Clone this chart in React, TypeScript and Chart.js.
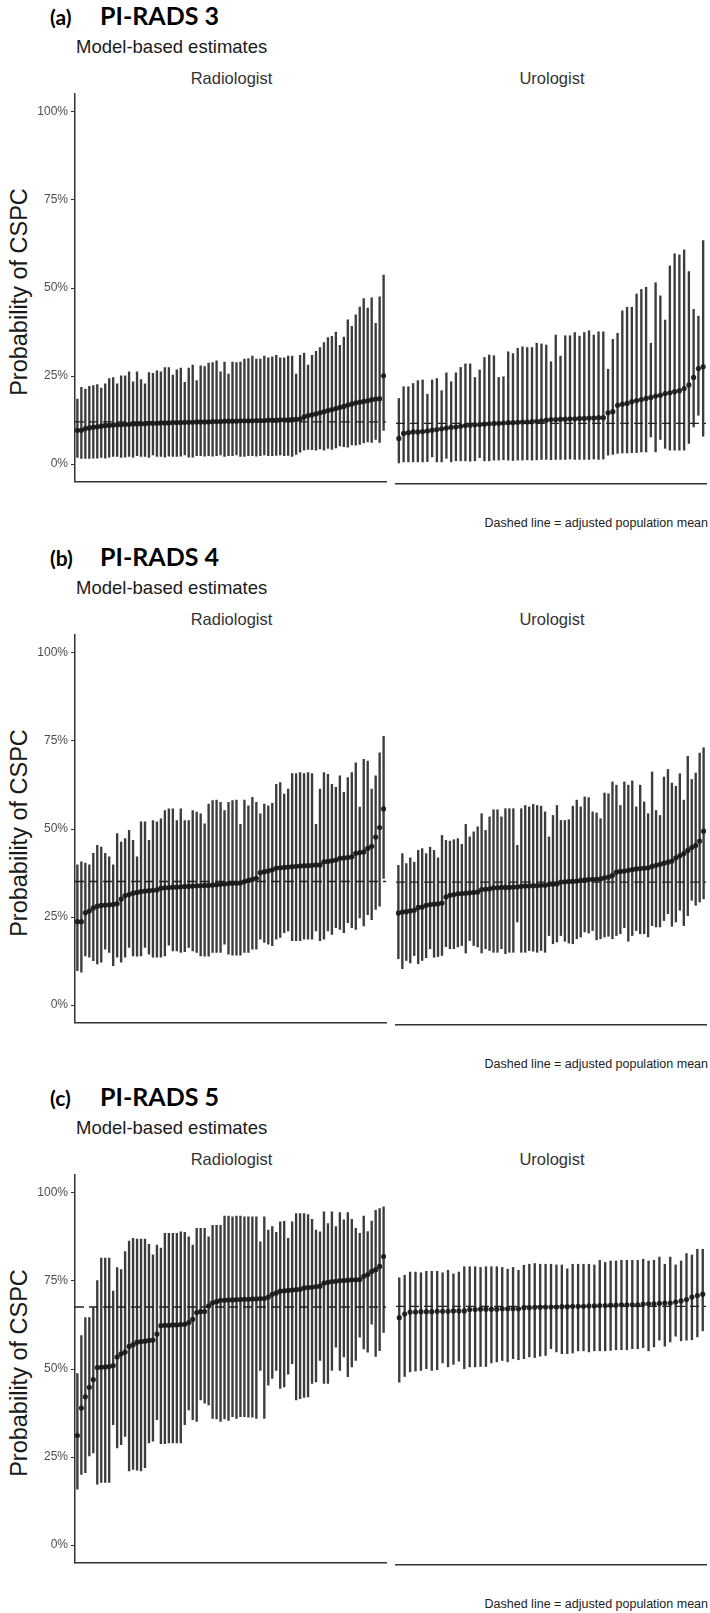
import React, { useEffect, useRef } from "react";
import { Chart, registerables } from "chart.js";
Chart.register(...registerables);

// ---------- Text / labels ----------
const panelTags = ["(a)", "(b)", "(c)"];
const panelTitles = ["PI-RADS 3", "PI-RADS 4", "PI-RADS 5"];
const subtitle = "Model-based estimates";
const facetNames = ["Radiologist", "Urologist"];
const yTitle = "Probability of CSPC";
const caption = "Dashed line = adjusted population mean";
const yTicks = [0, 25, 50, 75, 100];

// ---------- Adjusted population means (%) ----------
const means = [12.0, 35.1, 67.6];

// ---------- (a) PI-RADS 3 : Radiologist ----------
const aRadEst = [9.6, 9.6, 10.1, 10.3, 10.5, 10.6, 10.8, 11.0, 11.0, 11.1, 11.2, 11.2, 11.3, 11.3, 11.4, 11.4, 11.5, 11.5, 11.6, 11.6, 11.6, 11.7, 11.7, 11.7, 11.8, 11.8, 11.8, 11.9, 11.9, 11.9, 12.0, 12.0, 12.0, 12.0, 12.1, 12.1, 12.1, 12.2, 12.2, 12.2, 12.2, 12.3, 12.3, 12.3, 12.3, 12.4, 12.4, 12.4, 12.5, 12.5, 12.5, 12.6, 12.6, 12.6, 12.7, 12.7, 12.8, 13.4, 13.8, 14.0, 14.3, 14.6, 14.9, 15.2, 15.5, 15.8, 16.1, 16.4, 16.8, 17.1, 17.4, 17.6, 17.8, 18.0, 18.3, 18.5, 18.6, 25.1];
const aRadLow = [1.9, 1.6, 1.6, 1.6, 1.7, 1.7, 1.9, 1.7, 2.0, 2.2, 2.2, 1.9, 2.0, 2.2, 1.9, 2.4, 2.2, 2.2, 1.9, 2.6, 2.2, 2.2, 2.0, 2.3, 2.2, 2.2, 2.3, 2.6, 2.0, 2.0, 2.4, 2.4, 2.3, 2.4, 2.3, 2.4, 2.6, 2.2, 2.4, 2.4, 2.6, 2.2, 2.2, 2.4, 2.4, 2.3, 2.4, 2.6, 2.4, 2.4, 2.5, 2.6, 2.4, 2.5, 2.2, 2.8, 3.4, 4.0, 4.2, 4.1, 4.0, 4.3, 4.0, 4.5, 4.2, 4.6, 5.2, 5.0, 4.8, 5.5, 5.4, 5.6, 6.0, 6.3, 6.2, 7.0, 6.2, 9.6];
const aRadHigh = [18.5, 21.8, 21.3, 22.1, 22.3, 22.6, 21.6, 22.8, 24.3, 24.6, 22.8, 25.1, 25.1, 26.2, 23.4, 26.2, 24.0, 22.8, 26.0, 25.8, 26.5, 26.2, 27.4, 27.4, 25.3, 26.8, 27.3, 23.2, 27.3, 28.1, 23.7, 27.9, 27.7, 28.7, 28.8, 29.3, 26.2, 29.0, 25.6, 29.0, 28.8, 29.0, 29.8, 30.0, 30.7, 29.8, 29.8, 30.7, 30.2, 30.5, 30.9, 30.2, 30.2, 30.7, 30.7, 25.6, 30.9, 31.5, 28.1, 30.9, 32.0, 33.1, 34.5, 35.9, 36.3, 37.5, 33.7, 36.1, 41.0, 39.1, 42.4, 44.6, 47.0, 44.3, 47.2, 40.0, 47.5, 53.7];

// ---------- (a) PI-RADS 3 : Urologist ----------
const aUroEst = [7.8, 9.2, 9.4, 9.6, 9.6, 9.7, 9.9, 10.1, 10.3, 10.5, 10.7, 10.9, 11.0, 11.2, 11.4, 11.5, 11.6, 11.7, 11.8, 11.9, 12.0, 12.0, 12.1, 12.2, 12.2, 12.3, 12.4, 12.4, 12.5, 12.6, 12.7, 12.9, 13.1, 13.1, 13.2, 13.2, 13.3, 13.3, 13.4, 13.4, 13.5, 13.5, 13.6, 13.6, 15.0, 15.3, 17.1, 17.4, 17.6, 18.1, 18.4, 18.7, 19.0, 19.3, 19.7, 19.9, 20.4, 20.6, 20.9, 21.2, 21.8, 22.8, 24.9, 27.4, 27.9];
const aUroLow = [0.9, 1.2, 1.2, 1.2, 1.2, 1.2, 1.3, 2.6, 1.2, 1.2, 2.2, 1.2, 1.5, 1.5, 1.5, 1.4, 1.5, 2.4, 1.5, 1.5, 1.7, 1.7, 1.8, 1.7, 1.6, 1.7, 1.7, 1.8, 1.7, 1.8, 1.9, 1.9, 1.8, 1.9, 1.9, 1.9, 2.0, 1.9, 1.9, 1.9, 1.9, 2.0, 1.9, 2.0, 3.1, 3.3, 3.6, 3.7, 3.7, 3.8, 3.8, 4.0, 4.0, 8.2, 4.0, 7.5, 5.0, 4.5, 4.5, 4.5, 4.5, 6.4, 11.0, 14.3, 8.4];
const aUroHigh = [19.0, 22.3, 22.3, 23.2, 24.0, 24.2, 20.2, 24.2, 24.6, 21.2, 26.2, 23.7, 26.2, 27.7, 28.7, 28.7, 24.9, 27.0, 30.5, 31.2, 31.0, 24.9, 25.1, 32.1, 31.6, 33.1, 33.5, 33.3, 33.3, 34.5, 34.3, 34.0, 29.3, 36.8, 30.9, 36.6, 36.6, 37.5, 36.5, 37.5, 38.0, 36.8, 37.7, 37.7, 27.2, 35.6, 37.3, 43.6, 44.6, 44.6, 48.3, 49.6, 50.2, 34.5, 51.5, 47.8, 41.0, 56.2, 59.6, 59.3, 60.7, 54.6, 44.0, 42.1, 63.3];

// ---------- (b) PI-RADS 4 : Radiologist ----------
const bRadEst = [23.7, 23.7, 26.2, 26.7, 27.6, 28.1, 28.3, 28.4, 28.5, 28.6, 28.8, 30.1, 31.1, 31.4, 31.8, 32.0, 32.2, 32.4, 32.5, 32.6, 32.7, 33.2, 33.3, 33.4, 33.5, 33.5, 33.6, 33.7, 33.7, 33.8, 33.9, 33.9, 34.0, 34.0, 34.1, 34.2, 34.3, 34.4, 34.5, 34.6, 34.6, 34.7, 35.1, 35.4, 35.7, 36.0, 37.6, 37.9, 38.1, 38.4, 38.9, 39.0, 39.1, 39.2, 39.3, 39.4, 39.5, 39.6, 39.6, 39.7, 39.8, 39.8, 40.7, 40.8, 41.0, 41.2, 41.7, 41.8, 41.9, 42.1, 43.1, 43.3, 43.5, 44.5, 45.1, 47.7, 50.4, 55.7];
const bRadLow = [9.8, 9.4, 14.0, 13.6, 12.6, 11.7, 12.2, 15.9, 15.0, 11.2, 13.6, 12.2, 13.6, 16.4, 14.0, 13.9, 14.0, 16.4, 14.5, 13.6, 13.6, 13.6, 14.0, 17.0, 15.4, 15.4, 15.0, 15.2, 16.4, 15.4, 15.0, 14.0, 13.9, 13.9, 15.0, 15.0, 15.0, 17.3, 14.5, 14.2, 14.2, 14.2, 15.0, 15.0, 15.9, 15.9, 18.7, 17.8, 17.3, 16.9, 18.7, 19.2, 20.6, 21.1, 18.3, 18.3, 18.3, 18.7, 18.7, 18.7, 21.1, 18.3, 18.7, 21.1, 20.1, 22.0, 21.5, 20.6, 23.4, 22.0, 21.5, 24.8, 22.5, 25.7, 24.3, 27.2, 28.1, 36.0];
const bRadHigh = [39.8, 40.7, 40.3, 39.8, 43.1, 45.4, 44.9, 43.1, 42.1, 39.8, 48.7, 46.3, 47.3, 49.6, 46.8, 42.1, 52.0, 52.0, 46.8, 52.4, 52.0, 52.9, 55.2, 55.7, 55.7, 52.4, 55.7, 52.4, 52.4, 55.2, 54.8, 54.3, 51.5, 57.1, 58.1, 58.2, 57.6, 55.2, 57.6, 58.1, 58.2, 51.3, 58.2, 56.6, 59.0, 57.6, 54.3, 57.1, 56.6, 57.3, 62.7, 63.2, 59.9, 61.3, 65.7, 65.7, 66.0, 65.7, 66.0, 65.7, 51.3, 61.3, 66.0, 65.5, 62.7, 61.8, 65.1, 60.4, 64.6, 66.0, 68.8, 56.2, 69.8, 69.3, 61.3, 65.1, 71.6, 76.3];

// ---------- (b) PI-RADS 4 : Urologist ----------
const bUroEst = [26.4, 26.7, 26.8, 27.0, 27.2, 28.0, 28.1, 28.6, 28.8, 28.9, 29.0, 29.2, 30.9, 31.4, 31.6, 31.8, 31.9, 32.0, 32.1, 32.2, 32.3, 33.0, 33.1, 33.2, 33.5, 33.5, 33.6, 33.6, 33.6, 33.7, 33.7, 33.9, 34.0, 34.0, 34.1, 34.1, 34.2, 34.2, 34.5, 34.5, 34.6, 35.1, 35.2, 35.3, 35.3, 35.4, 35.6, 35.7, 35.8, 35.9, 35.9, 36.0, 36.3, 36.5, 37.0, 37.9, 38.1, 38.2, 38.4, 38.6, 38.8, 38.9, 39.0, 39.1, 39.5, 39.8, 40.1, 40.4, 40.7, 41.0, 41.9, 42.5, 43.1, 44.0, 44.8, 45.4, 46.6, 49.4];
const bUroLow = [13.6, 10.8, 13.1, 12.4, 14.5, 12.2, 13.1, 13.9, 16.4, 14.0, 14.2, 14.5, 17.0, 16.4, 16.4, 16.9, 17.3, 15.2, 18.7, 17.3, 16.9, 15.2, 16.4, 15.9, 15.4, 15.4, 16.4, 15.0, 15.4, 15.4, 23.9, 15.4, 15.4, 15.9, 15.7, 15.4, 15.9, 15.4, 20.1, 17.8, 18.3, 20.1, 18.5, 18.0, 17.8, 19.2, 19.7, 21.1, 20.8, 21.5, 18.9, 19.2, 19.7, 19.9, 19.2, 20.1, 20.6, 22.3, 18.5, 20.1, 21.5, 20.6, 20.6, 19.7, 22.9, 22.5, 22.5, 24.3, 26.2, 22.7, 23.9, 27.2, 22.9, 25.7, 30.0, 28.6, 29.5, 30.4];
const bUroHigh = [39.8, 43.1, 40.3, 41.9, 40.7, 44.0, 44.5, 43.1, 44.9, 44.0, 41.9, 48.2, 46.8, 46.6, 47.0, 47.3, 45.7, 51.3, 47.8, 49.2, 50.6, 54.3, 49.6, 53.4, 55.4, 55.4, 53.4, 55.7, 55.7, 55.7, 45.4, 55.7, 56.6, 56.2, 56.9, 56.6, 56.4, 54.8, 47.8, 53.8, 56.6, 52.4, 52.4, 52.6, 56.4, 58.1, 56.2, 59.0, 58.8, 54.8, 54.5, 52.9, 60.1, 59.9, 63.2, 62.3, 56.6, 63.2, 62.3, 63.5, 56.2, 62.3, 57.6, 54.3, 66.0, 55.2, 53.8, 64.6, 66.7, 62.9, 62.0, 65.5, 58.1, 70.4, 63.9, 65.7, 71.3, 72.8];

// ---------- (c) PI-RADS 5 : Radiologist ----------
const cRadEst = [31.1, 38.9, 42.1, 44.8, 47.0, 50.4, 50.5, 50.6, 50.7, 51.0, 53.4, 54.3, 54.8, 56.4, 56.9, 57.6, 57.8, 57.9, 58.1, 58.2, 59.9, 62.3, 62.4, 62.4, 62.5, 62.5, 62.6, 62.7, 63.2, 64.1, 66.0, 66.3, 66.3, 67.9, 68.8, 69.1, 69.5, 69.5, 69.6, 69.6, 69.7, 69.7, 69.8, 69.8, 69.9, 69.9, 70.0, 70.0, 70.4, 71.2, 71.6, 72.1, 72.2, 72.3, 72.4, 72.5, 72.6, 73.0, 73.1, 73.2, 73.4, 73.5, 74.4, 74.6, 74.8, 74.9, 75.1, 75.1, 75.2, 75.3, 75.3, 75.4, 76.3, 76.8, 77.7, 78.2, 79.1, 81.9];
const cRadLow = [15.9, 20.1, 20.6, 25.3, 26.2, 17.3, 17.8, 17.8, 17.8, 34.2, 27.6, 28.5, 30.9, 21.1, 21.5, 21.3, 21.1, 22.0, 29.0, 29.5, 35.6, 28.8, 28.8, 29.0, 29.0, 29.0, 29.0, 34.2, 38.4, 35.6, 35.1, 41.2, 40.3, 39.8, 36.0, 35.8, 35.1, 35.8, 35.4, 36.5, 36.0, 36.5, 36.5, 36.3, 36.3, 36.0, 49.6, 36.0, 45.4, 47.3, 49.6, 44.5, 44.9, 48.5, 51.5, 41.2, 41.6, 41.9, 42.1, 45.9, 46.3, 52.4, 45.9, 45.9, 49.6, 56.2, 49.6, 53.4, 47.8, 50.6, 52.4, 59.0, 55.7, 54.8, 62.7, 53.6, 55.2, 60.4];
const cRadHigh = [48.7, 59.5, 64.6, 64.6, 67.4, 75.1, 81.5, 81.5, 81.5, 72.1, 78.8, 78.2, 83.3, 86.3, 87.1, 86.9, 86.9, 86.9, 85.4, 82.4, 85.2, 84.3, 88.5, 88.5, 88.5, 88.5, 88.9, 88.8, 87.5, 85.2, 89.9, 89.9, 89.9, 87.5, 90.8, 90.8, 90.8, 93.4, 93.4, 93.2, 93.4, 93.4, 93.2, 93.2, 93.2, 93.2, 86.1, 93.2, 89.4, 90.4, 88.8, 91.8, 91.9, 87.1, 91.8, 94.1, 94.1, 94.1, 93.8, 92.5, 89.4, 88.9, 94.6, 91.3, 94.6, 90.4, 94.4, 92.3, 94.4, 92.5, 89.9, 88.5, 93.4, 89.0, 92.0, 95.0, 95.5, 96.0];

// ---------- (c) PI-RADS 5 : Urologist ----------
const cUroEst = [64.4, 65.4, 66.0, 66.0, 66.1, 66.1, 66.1, 66.2, 66.2, 66.2, 66.3, 66.3, 66.3, 66.7, 66.7, 66.8, 66.8, 66.8, 66.8, 66.9, 66.9, 66.9, 66.9, 67.2, 67.2, 67.3, 67.3, 67.4, 67.4, 67.4, 67.5, 67.5, 67.6, 67.6, 67.6, 67.7, 67.7, 67.8, 67.8, 67.9, 67.9, 68.0, 68.0, 68.0, 68.0, 68.2, 68.3, 68.3, 68.4, 68.5, 68.5, 68.8, 69.1, 69.5, 70.2, 70.6, 71.0];
const cUroLow = [46.3, 47.9, 49.2, 49.4, 49.6, 50.1, 49.6, 49.8, 51.7, 50.6, 51.3, 52.2, 50.1, 50.6, 50.6, 50.7, 50.7, 51.7, 52.0, 52.4, 52.0, 52.9, 52.6, 52.9, 53.4, 53.2, 53.6, 53.8, 55.7, 54.8, 54.3, 54.3, 54.5, 55.1, 55.1, 54.8, 55.1, 55.1, 55.1, 55.2, 55.4, 55.4, 55.4, 55.7, 55.7, 56.0, 55.1, 56.2, 58.1, 56.4, 57.6, 59.2, 57.9, 58.1, 58.2, 59.0, 60.7];
const cUroHigh = [75.6, 76.3, 77.2, 77.2, 77.0, 77.4, 77.4, 77.4, 77.0, 77.7, 76.7, 77.2, 78.7, 78.7, 78.7, 78.5, 78.7, 78.7, 78.7, 78.5, 78.0, 78.5, 77.7, 79.1, 79.4, 79.6, 79.4, 79.4, 79.4, 79.2, 79.2, 78.1, 79.4, 79.4, 79.4, 79.4, 79.2, 80.5, 79.9, 80.3, 80.3, 80.5, 80.5, 80.5, 80.5, 80.8, 80.3, 80.5, 81.4, 79.4, 81.4, 79.2, 80.3, 82.4, 82.0, 83.6, 83.6];

const panels = [
  { facets: [[aRadLow, aRadEst, aRadHigh], [aUroLow, aUroEst, aUroHigh]] },
  { facets: [[bRadLow, bRadEst, bRadHigh], [bUroLow, bUroEst, bUroHigh]] },
  { facets: [[cRadLow, cRadEst, cRadHigh], [cUroLow, cUroEst, cUroHigh]] },
];

const SANS = '"Liberation Sans", Arial, Helvetica, sans-serif';
const TITLE = 'Lato, "Open Sans", sans-serif';
const PANEL_TOPS = [92, 633, 1173];
const PLOT_H = 392;
const PAD = 8;

type FacetProps = {
  left: number; top: number; width: number; padLeft: number; padRight: number;
  showY: boolean; low: number[]; est: number[]; high: number[]; mean: number;
};

function Facet(p: FacetProps) {
  const ref = useRef<HTMLCanvasElement>(null);
  useEffect(() => {
    const n = p.est.length;
    const chart = new Chart(ref.current as HTMLCanvasElement, {
      type: "bar",
      data: {
        datasets: [
          {
            type: "bar",
            data: p.est.map((_, i) => ({ x: i, y: [p.low[i], p.high[i]] })) as any,
            backgroundColor: "#3c3c3c",
            borderWidth: 0,
            barThickness: 1.7,
            order: 3,
          },
          {
            type: "line",
            data: [{ x: -0.6, y: p.mean }, { x: n - 0.4, y: p.mean }],
            borderColor: "#222222",
            borderWidth: 1.3,
            borderDash: [9, 5],
            pointRadius: 0,
            order: 2,
          },
          {
            type: "line",
            data: p.est.map((v, i) => ({ x: i, y: v })),
            showLine: false,
            pointRadius: 2.6,
            pointBackgroundColor: "rgba(25,25,25,0.92)",
            pointBorderWidth: 0,
            order: 1,
          },
        ] as any,
      },
      options: {
        responsive: false,
        animation: false,
        devicePixelRatio: 1,
        layout: { padding: { left: p.padLeft, right: p.padRight, top: PAD, bottom: PAD } },
        plugins: { legend: { display: false }, tooltip: { enabled: false } },
        scales: {
          x: {
            type: "linear",
            min: -0.6,
            max: n - 0.4,
            offset: false,
            ticks: { display: false },
            grid: { display: false, drawTicks: false },
            border: { display: true, color: "#333333", width: 1.5 },
            afterFit: (s: any) => { s.height = 0; },
          },
          y: {
            type: "linear",
            min: -5,
            max: 105,
            display: p.showY,
            afterBuildTicks: (s: any) => { s.ticks = yTicks.map((v) => ({ value: v })); },
            afterFit: (s: any) => { s.width = p.showY ? 75 : 0; },
            ticks: {
              color: "#4d4d4d",
              font: { family: SANS, size: 12 },
              padding: 3,
              callback: (v: any) => v + "%",
            },
            grid: { display: true, drawOnChartArea: false, drawTicks: true, tickLength: 4, color: "#333333", lineWidth: 1 },
            border: { display: true, color: "#333333", width: 1.5 },
          },
        },
      } as any,
    });
    return () => chart.destroy();
  }, []);
  return (
    <canvas
      ref={ref}
      width={p.width}
      height={PLOT_H + 2 * PAD}
      style={{ position: "absolute", left: p.left, top: p.top }}
    />
  );
}

function Txt(props: { x: number; base: number; size: number; family?: string; weight?: number; color?: string; align?: "left" | "center" | "right"; children: any }) {
  const fam = props.family || SANS;
  const k = fam === TITLE ? 0.887 : 0.8465;
  const style: any = {
    position: "absolute",
    top: props.base - k * props.size,
    fontSize: props.size,
    lineHeight: props.size + "px",
    fontFamily: fam,
    fontWeight: props.weight || 400,
    color: props.color || "#1a1a1a",
    whiteSpace: "nowrap",
  };
  if (props.align === "right") style.right = 710 - props.x;
  else if (props.align === "center") { style.left = props.x - 100; style.width = 200; style.textAlign = "center"; }
  else style.left = props.x;
  return <div style={style}>{props.children}</div>;
}

export default function App() {
  return (
    <div style={{ position: "absolute", left: 0, top: 0, width: 710, height: 1613, background: "#fff", overflow: "hidden" }}>
      {panels.map((panel, pi) => {
        const top = PANEL_TOPS[pi];
        const off = top - 92;
        return (
          <React.Fragment key={pi}>
            <Txt x={50} base={24.5 + off} size={21} family={TITLE} weight={700} color="#000">{panelTags[pi]}</Txt>
            <Txt x={100} base={25 + off} size={25} family={TITLE} weight={700} color="#000">{panelTitles[pi]}</Txt>
            <Txt x={76} base={53.3 + off} size={18.5} color="#1a1a1a">{subtitle}</Txt>
            <Txt x={231.5} base={83.5 + off} size={16.5} align="center" color="#333">{facetNames[0]}</Txt>
            <Txt x={552} base={83.5 + off} size={16.5} align="center" color="#333">{facetNames[1]}</Txt>
            <div
              style={{
                position: "absolute",
                left: 19 - 150,
                top: top + 200 - 13,
                width: 300,
                height: 26,
                lineHeight: "26px",
                textAlign: "center",
                fontFamily: SANS,
                fontSize: 23.5,
                color: "#1a1a1a",
                transform: "rotate(-90deg)",
                transformOrigin: "50% 50%",
                whiteSpace: "nowrap",
              }}
            >
              {yTitle}
            </div>
            <Txt x={708} base={528 + off} size={12.5} align="right" color="#222">{caption}</Txt>
            <Facet left={0} top={top - PAD} width={390} padLeft={0} padRight={2} showY={true}
              low={panel.facets[0][0]} est={panel.facets[0][1]} high={panel.facets[0][2]} mean={means[pi]} />
            <Facet left={390} top={top - PAD} width={320} padLeft={6} padRight={2} showY={false}
              low={panel.facets[1][0]} est={panel.facets[1][1]} high={panel.facets[1][2]} mean={means[pi]} />
          </React.Fragment>
        );
      })}
    </div>
  );
}
